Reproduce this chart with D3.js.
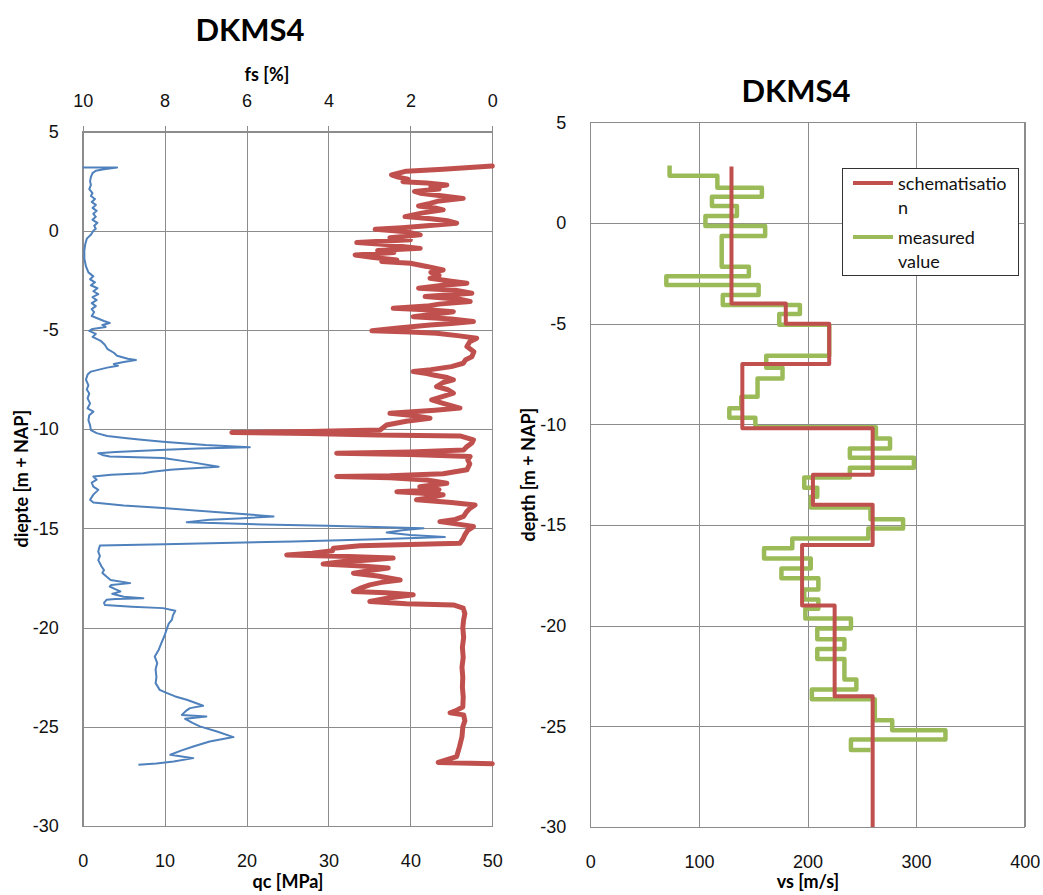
<!DOCTYPE html>
<html>
<head>
<meta charset="utf-8">
<script src="https://cdn.jsdelivr.net/npm/d3@7"></script>
<style>
  html, body { margin: 0; padding: 0; background: #fff; }
  svg { display: block; font-family: Lato, "Open Sans", sans-serif; }
  .tick text { font-size: 18px; fill: #111; }
  .grid line { stroke: #8c8c8c; stroke-width: 1; shape-rendering: crispEdges; }
  .grid path { display: none; }
</style>
</head>
<body>
<svg id="chart" width="1043" height="895"></svg>
<script>
// ---------- CPT sounding DKMS4: cone resistance qc [MPa] vs depth ----------
const qcDepth = [3.18, 3.18, 3.10, 3.02, 2.90, 2.70, 2.50, 2.30, 2.10, 1.90, 1.75, 1.60, 1.45, 1.30, 1.15, 1.00, 0.85, 0.70, 0.55, 0.40, 0.25, 0.10, 0.00,
  -0.20, -0.40, -0.70, -1.00, -1.40, -1.80, -2.10, -2.30, -2.45, -2.60, -2.75, -2.90, -3.05, -3.20, -3.35, -3.50, -3.65, -3.80, -3.95, -4.10, -4.30,
  -4.45, -4.55, -4.65, -4.75, -4.85, -4.95, -5.05, -5.20, -5.35, -5.55, -5.75, -5.95, -6.15, -6.30, -6.45, -6.52, -6.62, -6.72, -6.80, -6.90, -7.00,
  -7.10, -7.25, -7.50, -7.80, -8.00, -8.20, -8.45, -8.70, -8.95, -9.12, -9.30, -9.55, -9.80, -10.05, -10.20, -10.35, -10.46, -10.55, -10.63, -10.80,
  -10.91, -10.98, -11.05, -11.15, -11.21, -11.30, -11.38, -11.46, -11.65, -11.89, -12.00, -12.05, -12.15, -12.22, -12.30, -12.39, -12.55, -12.70,
  -12.90, -13.06, -13.30, -13.56, -13.70, -13.85, -13.98, -14.20, -14.40, -14.50, -14.57, -14.69, -14.80, -14.87, -14.99, -15.10, -15.21, -15.33,
  -15.44, -15.55, -15.66, -15.80, -15.87, -16.00, -16.17, -16.40, -16.60, -16.92, -17.10, -17.25, -17.43, -17.60, -17.76, -17.85, -17.93, -18.05,
  -18.18, -18.30, -18.45, -18.52, -18.56, -18.60, -18.75, -18.86, -18.95, -19.02, -19.15, -19.40, -19.60, -19.80, -20.03, -20.40, -20.78, -21.10,
  -21.46, -21.79, -22.10, -22.50, -22.80, -23.00, -23.14, -23.30, -23.47, -23.64, -23.80, -23.94, -24.06, -24.20, -24.40, -24.48, -24.60, -24.80,
  -24.98, -25.24, -25.52, -25.74, -25.99, -26.20, -26.41, -26.58, -26.75, -26.85, -26.91];
const qcValue = [0.0, 4.2, 2.6, 1.6, 1.2, 1.0, 0.9, 1.0, 0.8, 1.2, 1.0, 1.5, 1.1, 1.6, 1.2, 1.7, 1.3, 1.6, 1.2, 1.8, 1.4, 1.6, 1.3,
  1.0, 0.5, 0.3, 0.2, 0.2, 0.4, 0.7, 1.3, 0.9, 1.5, 1.0, 1.8, 1.3, 1.9, 1.2, 1.7, 1.1, 1.6, 1.1, 1.4, 1.1,
  2.0, 2.6, 3.3, 2.4, 2.8, 1.2, 0.8, 1.6, 1.2, 2.2, 2.7, 3.0, 3.8, 4.2, 5.5, 6.5, 5.0, 3.8, 4.3, 3.0, 2.0,
  1.0, 0.6, 0.4, 0.7, 0.5, 0.8, 0.6, 0.9, 0.6, 1.3, 0.8, 0.7, 0.9, 1.0, 1.7, 3.0, 5.4, 7.5, 9.8, 15.0,
  20.4, 14.0, 9.4, 4.0, 1.9, 2.4, 3.3, 9.8, 13.0, 16.6, 12.5, 10.7, 8.5, 7.4, 3.5, 1.3, 1.7, 1.1,
  1.3, 1.9, 1.3, 0.9, 1.3, 5.0, 9.8, 17.0, 23.3, 19.0, 15.5, 12.7, 22.0, 29.8, 41.6, 39.0, 37.1, 40.0,
  44.2, 36.0, 25.7, 10.0, 2.1, 2.0, 1.9, 2.1, 1.9, 2.3, 2.6, 2.4, 2.9, 3.4, 5.8, 3.5, 3.3, 3.9,
  4.6, 3.6, 5.0, 7.4, 4.0, 2.9, 2.6, 2.7, 6.0, 9.8, 11.3, 11.0, 10.9, 10.5, 10.3, 10.0, 9.6, 9.3,
  8.8, 9.1, 8.9, 9.0, 8.9, 9.2, 9.4, 10.3, 11.3, 12.7, 13.8, 14.7, 13.1, 12.6, 12.1, 15.1, 12.5, 13.4,
  14.3, 16.4, 18.4, 15.5, 13.5, 12.0, 10.7, 13.5, 11.1, 9.0, 6.8];

// ---------- friction ratio fs [%] vs depth ----------
const fsDepth = [3.26, 3.10, 3.00, 2.81, 2.70, 2.60, 2.47, 2.40, 2.30, 2.20, 2.10, 1.98, 1.89, 1.75, 1.63, 1.50, 1.38, 1.25, 1.15, 1.05, 0.90,
  0.71, 0.60, 0.50, 0.38, 0.25, 0.15, 0.07, -0.05, -0.21, -0.35, -0.45, -0.60, -0.70, -0.80, -0.89, -1.00, -1.10, -1.22, -1.35, -1.47, -1.55,
  -1.64, -1.80, -1.98, -2.10, -2.25, -2.40, -2.55, -2.65, -2.75, -2.90, -3.00, -3.15, -3.25, -3.32, -3.45, -3.57, -3.70, -3.80, -3.91, -4.00,
  -4.08, -4.20, -4.33, -4.45, -4.58, -4.68, -4.75, -4.90, -5.04, -5.10, -5.17, -5.30, -5.42, -5.60, -5.84, -6.10, -6.35, -6.50, -6.68, -6.85,
  -7.00, -7.10, -7.20, -7.27, -7.40, -7.52, -7.65, -7.86, -8.00, -8.19, -8.35, -8.53, -8.70, -8.94, -9.05, -9.20, -9.30, -9.45, -9.60, -9.79,
  -10.04, -10.12, -10.17, -10.22, -10.29, -10.34, -10.54, -10.70, -10.88, -11.05, -11.15, -11.21, -11.28, -11.38, -11.55, -11.75, -12.05, -12.25,
  -12.35, -12.39, -12.45, -12.56, -12.73, -12.90, -13.05, -13.15, -13.22, -13.31, -13.45, -13.56, -13.70, -13.82, -14.00, -14.15, -14.40, -14.55,
  -14.66, -14.80, -14.91, -15.10, -15.33, -15.55, -15.75, -15.88, -16.00, -16.13, -16.25, -16.34, -16.42, -16.50, -16.60, -16.67, -16.80, -16.90,
  -17.00, -17.13, -17.26, -17.40, -17.60, -17.72, -17.85, -18.00, -18.18, -18.25, -18.35, -18.50, -18.69, -18.80, -18.86, -19.02, -19.30, -19.60,
  -20.00, -20.50, -21.00, -21.50, -22.00, -22.50, -23.00, -23.50, -24.00, -24.20, -24.30, -24.40, -24.70, -25.00, -25.50, -26.00, -26.50, -26.80,
  -26.86];
const fsValue = [0.0, 1.2, 2.1, 2.46, 2.3, 2.06, 2.18, 1.6, 1.11, 1.5, 1.3, 1.9, 1.76, 1.2, 0.71, 1.3, 1.52, 1.8, 1.4, 1.2, 1.7,
  2.13, 1.5, 1.1, 0.87, 1.6, 2.2, 2.86, 2.1, 1.76, 2.5, 2.0, 3.31, 2.6, 2.2, 1.76, 2.8, 2.4, 3.35, 2.9, 2.33, 2.7,
  2.0, 1.6, 1.2, 1.5, 1.3, 1.52, 1.0, 0.62, 1.2, 1.8, 0.9, 0.5, 1.2, 1.64, 0.8, 0.54, 1.3, 1.6, 2.42, 1.5,
  0.95, 1.4, 1.93, 1.0, 0.46, 1.0, 1.52, 2.3, 2.94, 2.0, 1.36, 0.8, 0.38, 0.55, 0.62, 0.45, 0.5, 0.65, 0.71, 1.0,
  1.5, 1.93, 1.6, 1.44, 1.1, 0.95, 1.2, 1.36, 1.1, 0.95, 1.2, 1.48, 1.2, 0.79, 1.4, 2.5, 2.0, 1.52, 2.1, 2.58,
  2.74, 4.5, 6.36, 4.5, 2.82, 0.79, 0.46, 0.5, 0.62, 0.7, 2.0, 3.8, 2.0, 0.54, 0.6, 0.55, 0.62, 1.2,
  2.5, 3.8, 2.5, 1.6, 1.11, 1.77, 1.3, 2.33, 1.8, 1.2, 1.5, 1.85, 1.0, 0.42, 0.55, 0.62, 0.7, 0.9,
  1.28, 0.8, 0.46, 0.6, 0.67, 0.72, 0.79, 3.23, 3.88, 3.9, 4.4, 5.02, 3.5, 2.42, 3.0, 3.64, 4.13, 3.2,
  2.54, 3.0, 3.39, 2.8, 2.25, 2.7, 2.99, 3.2, 3.39, 2.6, 1.93, 2.5, 2.99, 2.1, 0.95, 0.71, 0.67, 0.7,
  0.72, 0.7, 0.73, 0.71, 0.74, 0.72, 0.73, 0.71, 0.72, 0.9, 1.03, 0.7, 0.67, 0.72, 0.74, 0.8, 0.87, 1.32,
  0.0];

// ---------- shear wave velocity profile ----------
// schematised layers: layer boundaries (m + NAP) and vs per layer
const schemDepth = [2.8, -4, -5, -7, -10.2, -12.5, -14, -16, -19, -23.5, -30];
const schemVs = [130, 180, 220, 140, 260, 205, 260, 195, 225, 260];
// measured layers: boundaries and vs per layer (last value closes the profile)
const measDepth = [2.85, 2.35, 1.75, 1.3, 0.84, 0.35, -0.15, -0.65, -2.17, -2.64, -3.08, -3.58, -4.08, -4.52, -5.05, -6.6, -7.19, -7.72,
  -8.63, -9.2, -9.67, -10.15, -10.7, -11.2, -11.66, -12.16, -12.64, -13.15, -13.6, -14.13, -14.72, -15.17, -15.67, -16.16, -16.66, -17.16,
  -17.65, -18.2, -18.7, -19.16, -19.64, -20.14, -20.67, -21.16, -21.66, -22.67, -23.17, -23.65, -24.7, -25.2, -25.65, -26.18];
const measVs = [73, 117, 158, 112, 135, 106, 161, 121, 146, 70, 155, 122, 193, 174, 220, 162, 177, 154, 139, 128, 152, 263, 276, 239, 298,
  239, 197, 209, 203, 258, 288, 256, 186, 160, 203, 176, 210, 197, 210, 198, 240, 209, 234, 209, 234, 245, 204, 262, 278, 327, 240, 258];

// axis ticks and labels
const depthTicks = [5, 0, -5, -10, -15, -20, -25, -30];
const qcTicks = [0, 10, 20, 30, 40, 50];
const fsTicks = [10, 8, 6, 4, 2, 0];
const vsTicks = [0, 100, 200, 300, 400];
const chartTitle = "DKMS4";
const legendItems = [
  { lines: ["schematisatio", "n"], color: "#C0504D" },
  { lines: ["measured", "value"], color: "#9BBB59" }
];

// ---------- drawing ----------
const svg = d3.select("#chart");
const BLUE = "#4F81BD", RED = "#C0504D", GREEN = "#9BBB59", GRID = "#8c8c8c";
const plain = d => String(d);   // plain hyphen-minus labels

function grid(g, x, y, xt, yt, L, R, T, B) {
  g.append("g").attr("class", "grid").attr("transform", `translate(0,${B})`)
    .call(d3.axisBottom(x).tickValues(xt).tickSize(-(B - T)).tickFormat(""));
  g.append("g").attr("class", "grid").attr("transform", `translate(${L},0)`)
    .call(d3.axisLeft(y).tickValues(yt).tickSize(-(R - L)).tickFormat(""));
  g.append("rect").attr("x", L).attr("y", T).attr("width", R - L).attr("height", B - T)
    .attr("fill", "none").attr("stroke", GRID).attr("stroke-width", 1).attr("shape-rendering", "crispEdges");
}

function tickLabels(g, axis, tx, ty) {
  const a = g.append("g").attr("transform", `translate(${tx},${ty})`).call(axis.tickFormat(plain));
  a.select(".domain").remove();
  a.selectAll(".tick line").remove();
  return a;
}

// ===== left panel: CPT =====
{
  const L = 82.7, R = 492.3, T = 131.5, B = 826;
  const x = d3.scaleLinear().domain([0, 50]).range([L, R]);
  const xf = d3.scaleLinear().domain([10, 0]).range([L, R]);
  const y = d3.scaleLinear().domain([5, -30]).range([T, B]);
  const g = svg.append("g");

  grid(g, x, y, qcTicks, depthTicks, L, R, T, B);
  // short outer ticks above the top axis
  g.append("g").attr("transform", `translate(0,${T})`)
    .call(d3.axisTop(xf).tickValues(fsTicks).tickSize(6).tickFormat(""))
    .call(s => { s.select(".domain").remove(); s.selectAll("line").attr("stroke", GRID).attr("shape-rendering", "crispEdges"); });

  tickLabels(g, d3.axisBottom(x).tickValues(qcTicks).tickPadding(22), 0, B);
  tickLabels(g, d3.axisTop(xf).tickValues(fsTicks).tickPadding(19), 0, T);
  tickLabels(g, d3.axisLeft(y).tickValues(depthTicks).tickPadding(18), L, 0);

  const qcLine = d3.line().x(d => x(d[1])).y(d => y(d[0]));
  g.append("path").datum(d3.zip(qcDepth, qcValue)).attr("d", qcLine)
    .attr("fill", "none").attr("stroke", BLUE).attr("stroke-width", 2).attr("stroke-linejoin", "round");

  const fsLine = d3.line().x(d => xf(d[1])).y(d => y(d[0]));
  g.append("path").datum(d3.zip(fsDepth, fsValue)).attr("d", fsLine)
    .attr("fill", "none").attr("stroke", RED).attr("stroke-width", 5).attr("stroke-linejoin", "round").attr("stroke-linecap", "round");

  g.append("text").attr("x", 250).attr("y", 41).attr("text-anchor", "middle")
    .attr("font-size", 31).attr("font-weight", 700).text(chartTitle);
  g.append("text").attr("x", 267).attr("y", 81).attr("text-anchor", "middle")
    .attr("font-size", 18).attr("font-weight", 700).text("fs [%]");
  g.append("text").attr("x", 288).attr("y", 888).attr("text-anchor", "middle")
    .attr("font-size", 18).attr("font-weight", 700).text("qc [MPa]");
  g.append("text").attr("transform", `translate(28,${(T + B) / 2}) rotate(-90)`).attr("text-anchor", "middle")
    .attr("font-size", 18).attr("font-weight", 700).text("diepte [m + NAP]");
}

// ===== right panel: shear wave velocity =====
{
  const L = 590.3, R = 1024.7, T = 122.3, B = 827;
  const x = d3.scaleLinear().domain([0, 400]).range([L, R]);
  const y = d3.scaleLinear().domain([5, -30]).range([T, B]);
  const g = svg.append("g");

  grid(g, x, y, vsTicks, depthTicks, L, R, T, B);
  tickLabels(g, d3.axisBottom(x).tickValues(vsTicks).tickPadding(22), 0, B);
  tickLabels(g, d3.axisLeft(y).tickValues(depthTicks).tickPadding(18), L, 0);

  const stepLine = d3.line().x(d => x(d[0])).y(d => y(d[1]));

  // measured value: each layer is a vertical segment, joined by horizontal steps
  const measPts = [];
  measVs.forEach((v, i) => {
    measPts.push([v, measDepth[i]]);
    if (i < measVs.length - 1) measPts.push([v, measDepth[i + 1]]);
  });
  g.append("path").datum(measPts).attr("d", stepLine)
    .attr("fill", "none").attr("stroke", GREEN).attr("stroke-width", 4.5).attr("stroke-linejoin", "round");

  const schemPts = [];
  schemVs.forEach((v, i) => { schemPts.push([v, schemDepth[i]], [v, schemDepth[i + 1]]); });
  g.append("path").datum(schemPts).attr("d", stepLine)
    .attr("fill", "none").attr("stroke", RED).attr("stroke-width", 4).attr("stroke-linejoin", "round");

  g.append("text").attr("x", 796).attr("y", 102).attr("text-anchor", "middle")
    .attr("font-size", 31).attr("font-weight", 700).text(chartTitle);
  g.append("text").attr("x", 808).attr("y", 888).attr("text-anchor", "middle")
    .attr("font-size", 18).attr("font-weight", 700).text("vs [m/s]");
  g.append("text").attr("transform", `translate(535,${(T + B) / 2}) rotate(-90)`).attr("text-anchor", "middle")
    .attr("font-size", 18).attr("font-weight", 700).text("depth [m + NAP]");

  // legend
  const lg = g.append("g").attr("transform", "translate(842,168)");
  lg.append("rect").attr("width", 176).attr("height", 107).attr("fill", "#fff")
    .attr("stroke", "#333").attr("stroke-width", 1).attr("shape-rendering", "crispEdges");
  legendItems.forEach((it, i) => {
    const yy = 15 + i * 54;
    lg.append("line").attr("x1", 11).attr("x2", 51).attr("y1", yy).attr("y2", yy)
      .attr("stroke", it.color).attr("stroke-width", 4);
    it.lines.forEach((t, j) => {
      lg.append("text").attr("x", 56).attr("y", yy + 7 + j * 24).attr("font-size", 18).attr("fill", "#111").text(t);
    });
  });
}
</script>
</body>
</html>
